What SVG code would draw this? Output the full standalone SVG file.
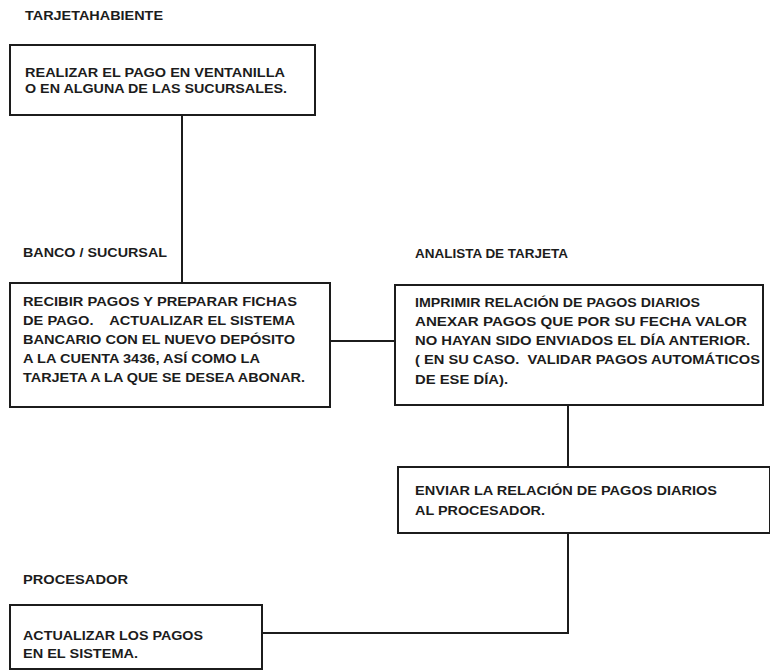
<svg xmlns="http://www.w3.org/2000/svg" width="770" height="672" viewBox="0 0 770 672">
<style>
text{font-family:"Liberation Sans",Arial,sans-serif;font-size:13px;font-weight:bold;fill:#1c1c1c}
.box{fill:#fff;stroke:#1c1c1c;stroke-width:2}
.conn{fill:none;stroke:#1c1c1c;stroke-width:2}
</style>
<rect width="770" height="672" fill="#fff"/>
<g id="lanes">
<text x="25" y="20" textLength="138" lengthAdjust="spacingAndGlyphs">TARJETAHABIENTE</text>
<text x="23" y="257" textLength="144" lengthAdjust="spacingAndGlyphs">BANCO / SUCURSAL</text>
<text x="415" y="258" textLength="153" lengthAdjust="spacingAndGlyphs">ANALISTA DE TARJETA</text>
<text x="23" y="584" textLength="105" lengthAdjust="spacingAndGlyphs">PROCESADOR</text>
</g>
<g id="connectors">
<path class="conn" d="M182 115V283"/>
<path class="conn" d="M330 341H395"/>
<path class="conn" d="M568 405V467"/>
<path class="conn" d="M568 533V633H262"/>
</g>
<g id="n1">
<rect class="box" x="10" y="45" width="305" height="70"/>
<text x="25" y="77" textLength="260" lengthAdjust="spacingAndGlyphs">REALIZAR EL PAGO EN VENTANILLA</text>
<text x="25" y="93" textLength="262" lengthAdjust="spacingAndGlyphs">O EN ALGUNA DE LAS SUCURSALES.</text>
</g>
<g id="n2">
<rect class="box" x="10" y="283" width="320" height="124"/>
<text x="23" y="306" textLength="274" lengthAdjust="spacingAndGlyphs">RECIBIR PAGOS Y PREPARAR FICHAS</text>
<text x="23" y="325" textLength="272" lengthAdjust="spacingAndGlyphs" xml:space="preserve">DE PAGO.    ACTUALIZAR EL SISTEMA</text>
<text x="23" y="344" textLength="272" lengthAdjust="spacingAndGlyphs">BANCARIO CON EL NUEVO DEPÓSITO</text>
<text x="23" y="363" textLength="237" lengthAdjust="spacingAndGlyphs">A LA CUENTA 3436, ASÍ COMO LA</text>
<text x="23" y="382" textLength="282" lengthAdjust="spacingAndGlyphs">TARJETA A LA QUE SE DESEA ABONAR.</text>
</g>
<g id="n3">
<rect class="box" x="395" y="285" width="368" height="120"/>
<text x="415" y="307" textLength="285" lengthAdjust="spacingAndGlyphs">IMPRIMIR RELACIÓN DE PAGOS DIARIOS</text>
<text x="415" y="326" textLength="332" lengthAdjust="spacingAndGlyphs">ANEXAR PAGOS QUE POR SU FECHA VALOR</text>
<text x="415" y="345" textLength="335" lengthAdjust="spacingAndGlyphs">NO HAYAN SIDO ENVIADOS EL DÍA ANTERIOR.</text>
<text x="415" y="364" textLength="345" lengthAdjust="spacingAndGlyphs" xml:space="preserve">( EN SU CASO.  VALIDAR PAGOS AUTOMÁTICOS</text>
<text x="415" y="384" textLength="93" lengthAdjust="spacingAndGlyphs">DE ESE DÍA).</text>
</g>
<g id="n4">
<rect class="box" x="398" y="467" width="372" height="66"/>
<text x="415" y="495" textLength="302" lengthAdjust="spacingAndGlyphs">ENVIAR LA RELACIÓN DE PAGOS DIARIOS</text>
<text x="415" y="515" textLength="130" lengthAdjust="spacingAndGlyphs">AL PROCESADOR.</text>
</g>
<g id="n5">
<rect class="box" x="10" y="605" width="252" height="64"/>
<text x="23" y="640" textLength="180" lengthAdjust="spacingAndGlyphs">ACTUALIZAR LOS PAGOS</text>
<text x="23" y="658" textLength="115" lengthAdjust="spacingAndGlyphs">EN EL SISTEMA.</text>
</g>
</svg>
